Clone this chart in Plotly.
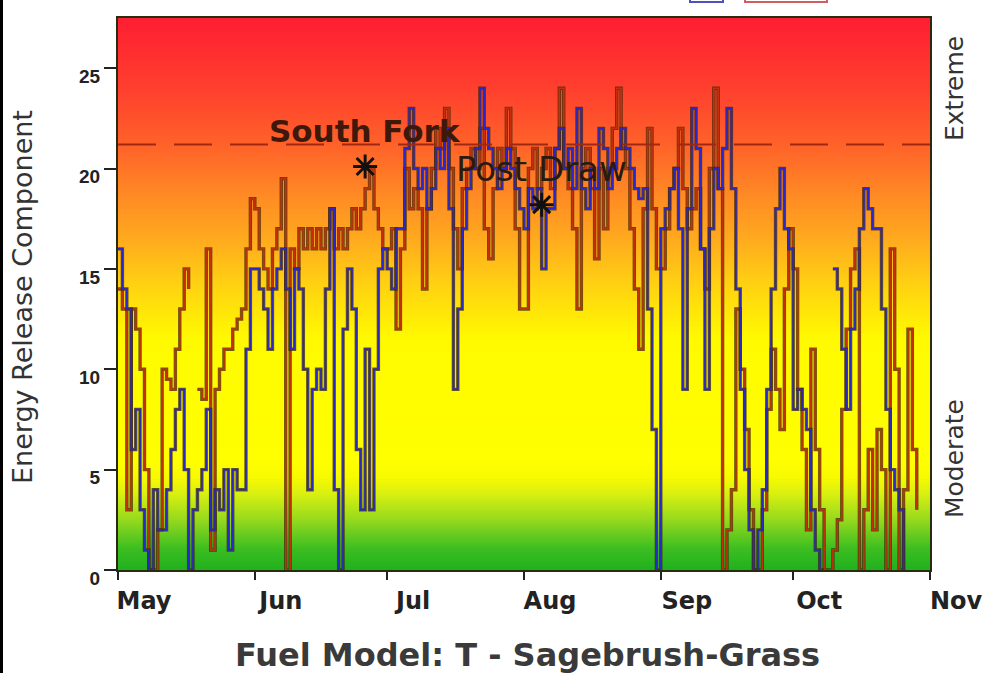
import plotly.graph_objects as go
import pandas as pd
import numpy as np

# ---------------- data ----------------
DATES = pd.date_range("2012-05-01", "2012-10-31", freq="D").strftime("%Y-%m-%d").tolist()

BLUE_MAY = [16, 14, 13, 6, 8, 3, 1, 0, 4, 2, 2, 4, 6, 8, 9, 5, 0, 3, 4, 5, 8, 2, 4, 3, 5, 1, 5, 4, 4, 11, 15]
BLUE_JUN = [15, 14, 13, 11, 14, 15, 16, 14, 11, 15, 14, 10, 4, 9, 10, 9, 14, 18, 4, 0, 12, 15, 13, 6, 3, 11, 3, 10, 15, 16]
BLUE_JUL = [15, 14, 17, 17, 21, 23, 20, 19, 20, 18, 19, 21, 20, 22, 18, 9, 13, 17, 19, 20, 21, 24, 22, 21, 20, 19, 20, 21, 20, 19, 18]
BLUE_AUG = [17, 19, 18, 19, 15, 18, 18, 21, 22, 20, 21, 19, 23, 19, 18, 20, 19, 22, 21, 19, 20, 21, 22, 21, 20, 19, 18.5, 19, 13, 7, 0]
BLUE_SEP = [17, 18, 19, 20, 17, 9, 18, 23, 21, 16, 9, 17, 20, 19, 21, 23, 19, 14, 9, 5, 2, 0, 2, 4, 9, 14, 18, 20, 17, 16]
BLUE_OCT = [8, 9, 8, 7, 3, 1, 0, 0, None, 15, 14, 11, 8, 12, 14, 17, 19, 18, 17, 17, 13, 8, 5, 4, 3, 0, None, None, None, None, None]

RED_MAY = [14, 13, 3, 13, 12, 10, 5, 0, 0, 2, 10, 9.5, 9, 11, 13, 15, 14, None, 9, 8.5, 16, 1, 9, 10, 11, 11, 12, 12.5, 13, 16, 18.5]
RED_JUN = [18, 16, 15, 14, 16, 17, 19.5, 0, 16, 15, 17, 16, 17, 16, 17, 16, 17, 18, 16, 17, 16, 17, 18, 17, 18, 19, 20, 18, 17, 16]
RED_JUL = [16, 17, 12, 16, 20, 18, 19, 18, 14, 18, 20, 22, 21, 23, 20, 17, 15, 19, 20, 21, 20, 22, 17, 15.5, 19, 21, 20, 23, 21, 17, 13]
RED_AUG = [13, 20, 21, 19, 20, 21, 19, 21, 24, 20, 19, 17, 13, 20, 21, 19, 15.5, 20, 17, 20, 22, 24, 21, 20, 17, 14, 11, 18, 22, 18, 15]
RED_SEP = [15, 17, 19, 20, 22, 19, 17, 18, 19, 16, 14, 20, 24, 19, 0, 2, 4, 13, 10, 7, 3, 0, 0, 3, 8, 11, 9, 7, 14, 17]
RED_OCT = [15, 9, 6, 2, 11, 6, 3, 0, 0, 1, 2.5, 8, 12, 15, 16, 0, 3, 6, 2, 7, 5, 0, 16, 10, 0, 4, 12, 6, 3, None, None]

BLUE_ERC = BLUE_MAY + BLUE_JUN + BLUE_JUL + BLUE_AUG + BLUE_SEP + BLUE_OCT
RED_ERC = RED_MAY + RED_JUN + RED_JUL + RED_AUG + RED_SEP + RED_OCT

MONTH_TICKS = ["2012-05-01", "2012-06-01", "2012-07-01", "2012-08-01",
               "2012-09-01", "2012-10-01", "2012-11-01"]
MONTH_LABELS = ["May", "Jun", "Jul", "Aug", "Sep", "Oct", "Nov"]
Y_TICKS = [0, 5, 10, 15, 20, 25]
Y_MAX = 27.5
THRESHOLD = 21.2

EVENT_NAMES = ["South Fork", "Post Draw"]
EVENT_DATES = ["2012-06-26", "2012-08-05"]
EVENT_ERC = [20.1, 18.2]

X_TITLE = "Fuel Model: T - Sagebrush-Grass"
Y_TITLE = "Energy Release Component"
ZONE_LABELS = ["Extreme", "Moderate"]

# ---------------- layout geometry (pixels) ----------------
W, H = 988, 673
L, R, T, B = 118, 930, 18, 570
PW, PH = R - L, B - T


def px(xp):
    return (xp - L) / PW


def py(yp):
    return (B - yp) / PH


fig = go.Figure()

# gradient background built from a heatmap on the value axis
y_edges = np.linspace(0, Y_MAX, 111)
y_mid = (y_edges[:-1] + y_edges[1:]) / 2
z = [[v, v] for v in y_mid]
colorscale = [
    [0.00, "#1fb01f"],
    [0.04, "#3cbe20"],
    [0.09, "#92d81e"],
    [0.14, "#daf010"],
    [0.17, "#f8fa00"],
    [0.20, "#ffff00"],
    [0.42, "#fffa00"],
    [0.52, "#ffd012"],
    [0.60, "#ffaa1e"],
    [0.68, "#ff8a24"],
    [0.77, "#ff6229"],
    [0.87, "#ff402e"],
    [1.00, "#ff1e32"],
]
fig.add_trace(go.Heatmap(
    x=[MONTH_TICKS[0], MONTH_TICKS[3], MONTH_TICKS[-1]],
    y=y_edges, z=z, zmin=0, zmax=Y_MAX, colorscale=colorscale,
    zsmooth="best", showscale=False, hoverinfo="skip",
))

# series (dark outline + coloured core)
for vals, core in [(RED_ERC, "#c4300e"), (BLUE_ERC, "#2828cc")]:
    fig.add_trace(go.Scatter(
        x=DATES, y=vals, mode="lines",
        line=dict(color="rgba(60,40,8,0.75)", width=3.4, shape="hv"),
        connectgaps=False, hoverinfo="skip", showlegend=False,
    ))
    fig.add_trace(go.Scatter(
        x=DATES, y=vals, mode="lines", line=dict(color=core, width=1.7, shape="hv"),
        connectgaps=False, showlegend=False,
    ))

# event markers
fig.add_trace(go.Scatter(
    x=EVENT_DATES, y=EVENT_ERC, mode="markers", showlegend=False,
    marker=dict(symbol="asterisk-open", size=20, color="#111111",
                line=dict(width=3, color="#111111")),
))

EVENT_STYLES = [
    dict(family="DejaVu Sans", size=31, color="#3e180a", weight="bold"),
    dict(family="DejaVu Sans", size=34, color="#2a1a12", weight="normal"),
]
for name, d, v, st in zip(EVENT_NAMES, EVENT_DATES, EVENT_ERC, EVENT_STYLES):
    fig.add_annotation(x=d, y=v, text=name, showarrow=False, yshift=36,
                       xanchor="center", yanchor="middle", font=st)

# threshold dashed line
fig.add_shape(type="line", xref="paper", x0=0, x1=1, yref="y", y0=THRESHOLD, y1=THRESHOLD,
              line=dict(color="#a02810", width=2, dash="38px,18px"))

# left frame edge of the picture
fig.add_shape(type="line", xref="paper", yref="paper",
              x0=px(1.5), x1=px(1.5), y0=py(H + 5), y1=py(-5),
              line=dict(color="#000000", width=3))

# partially visible legend boxes at the very top
fig.add_shape(type="rect", xref="paper", yref="paper",
              x0=px(690), x1=px(723), y0=py(2), y1=py(-20),
              line=dict(color="#5050c0", width=2), fillcolor="white")
fig.add_shape(type="rect", xref="paper", yref="paper",
              x0=px(745), x1=px(827), y0=py(2), y1=py(-20),
              line=dict(color="#d06060", width=2), fillcolor="white")

# side labels
for lab, yc in zip(ZONE_LABELS, [89, 459]):
    fig.add_annotation(xref="paper", yref="paper", x=px(954), y=py(yc), text=lab,
                       textangle=-90, showarrow=False, xanchor="center", yanchor="middle",
                       font=dict(family="DejaVu Sans", size=25, color="#333333"))

# axis titles
fig.add_annotation(xref="paper", yref="paper", x=px(527), y=py(655), text=X_TITLE,
                   showarrow=False, xanchor="center", yanchor="middle",
                   font=dict(family="DejaVu Sans", size=32, color="#3a3a3a", weight="bold"))
fig.add_annotation(xref="paper", yref="paper", x=px(22), y=py(297), text=Y_TITLE,
                   textangle=-90, showarrow=False, xanchor="center", yanchor="middle",
                   font=dict(family="DejaVu Sans", size=27, color="#333333"))

fig.update_layout(
    width=W, height=H, autosize=False,
    margin=dict(l=L, r=W - R, t=T, b=H - B),
    paper_bgcolor="white", plot_bgcolor="white",
    showlegend=False,
    xaxis=dict(
        type="date", range=[MONTH_TICKS[0], MONTH_TICKS[-1]],
        tickvals=MONTH_TICKS, ticktext=MONTH_LABELS, automargin=False,
        ticks="outside", ticklen=8, tickwidth=2, tickcolor="#222222",
        ticklabelshift=26,
        tickfont=dict(family="DejaVu Sans", size=24, color="#222222", weight="bold"),
        showgrid=False, zeroline=False,
        showline=True, mirror=True, linecolor="#2a2a10", linewidth=2,
    ),
    yaxis=dict(
        range=[0, Y_MAX], tickvals=Y_TICKS, automargin=False,
        ticks="outside", ticklen=12, tickwidth=1.5, tickcolor="#222222",
        ticklabelshift=8,
        tickfont=dict(family="Liberation Sans", size=19, color="#222222", weight="bold"),
        showgrid=False, zeroline=False,
        showline=True, mirror=True, linecolor="#2a2a10", linewidth=2,
    ),
)

fig.write_html("out.html", config=dict(displayModeBar=False),
               post_script="document.body.style.margin='0';document.body.style.overflow='hidden';")
